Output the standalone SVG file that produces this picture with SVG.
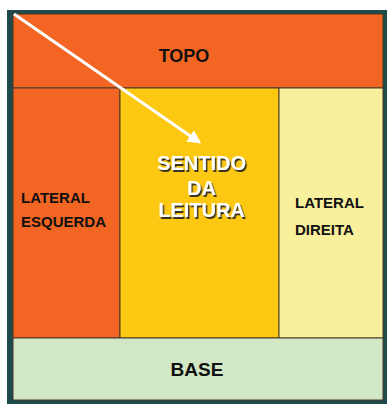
<svg xmlns="http://www.w3.org/2000/svg" width="387" height="405" viewBox="0 0 387 405">
<defs>
<style>
.cell{stroke:#4a3a28;stroke-width:1}
.lbl{font-family:"Liberation Sans",Arial,sans-serif;font-weight:bold;fill:#111}
.big{font-family:"Liberation Sans",Arial,sans-serif;font-weight:bold;font-size:20px;fill:#fff;text-anchor:middle;filter:url(#sh)}
</style>
<filter id="sh" x="-20%" y="-40%" width="140%" height="180%">
<feDropShadow dx="1.5" dy="2" stdDeviation="0.6" flood-color="#222" flood-opacity="0.9"/>
</filter>
<marker id="ah" viewBox="0 0 10 10" refX="8" refY="5" markerWidth="4.5" markerHeight="4.5" orient="auto" markerUnits="strokeWidth">
<path d="M0,0 L10,5 L0,10 z" fill="#fff"/>
</marker>
</defs>
<rect x="0" y="0" width="387" height="405" fill="#fff"/>
<rect x="7" y="10" width="380" height="394" fill="#1f4a4b"/>
<g id="topo">
<rect class="cell" x="13" y="14" width="370" height="74" fill="#f26522"/>
<text class="lbl" x="184" y="62" font-size="18" text-anchor="middle">TOPO</text>
</g>
<g id="lateral-esquerda">
<rect class="cell" x="13" y="88" width="107" height="250" fill="#f26522"/>
<text class="lbl" x="21" y="203" font-size="15">LATERAL</text>
<text class="lbl" x="21" y="227" font-size="15">ESQUERDA</text>
</g>
<g id="sentido">
<rect class="cell" x="120" y="88" width="159" height="250" fill="#fdc812"/>
<text class="big" x="201.5" y="170">SENTIDO</text>
<text class="big" x="201.5" y="195">DA</text>
<text class="big" x="201.5" y="217">LEITURA</text>
</g>
<g id="lateral-direita">
<rect class="cell" x="279" y="88" width="104" height="250" fill="#f8f09c"/>
<text class="lbl" x="295" y="208" font-size="15">LATERAL</text>
<text class="lbl" x="295" y="235" font-size="15">DIREITA</text>
</g>
<g id="base">
<rect class="cell" x="13" y="338" width="370" height="62" fill="#d1e7c5"/>
<text class="lbl" x="197" y="376" font-size="19" text-anchor="middle">BASE</text>
</g>
<g id="connectors">
<line x1="14" y1="14" x2="199" y2="142" stroke="#fff" stroke-width="3" marker-end="url(#ah)"/>
</g>
</svg>
